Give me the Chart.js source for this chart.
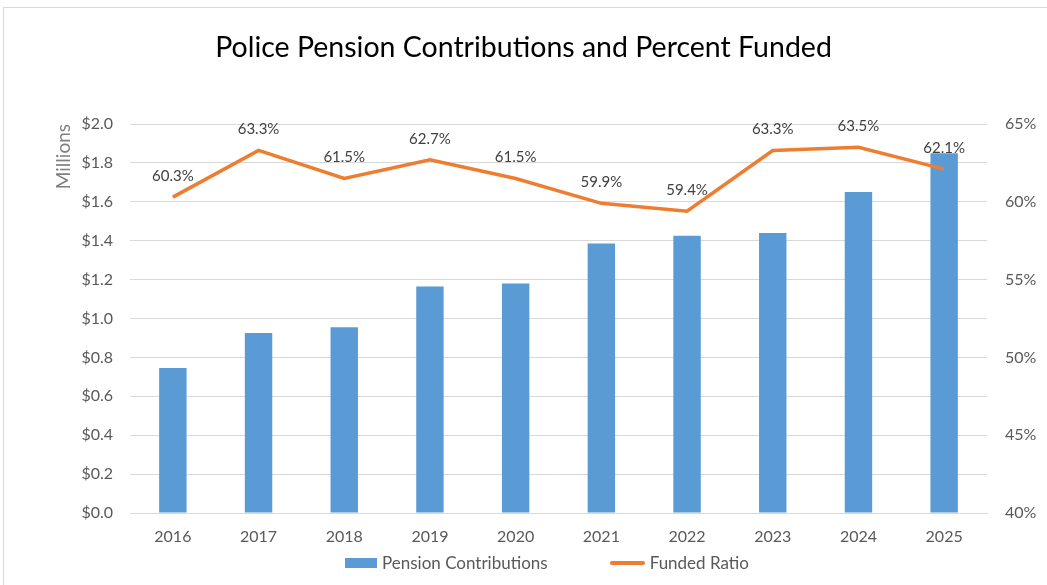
<!DOCTYPE html>
<html>
<head>
<meta charset="utf-8">
<title>Police Pension Contributions and Percent Funded</title>
<script src="https://cdn.jsdelivr.net/npm/chart.js@4.4.1/dist/chart.umd.min.js"></script>
<style>
  html, body { margin: 0; padding: 0; background: #fff; }
  body { width: 1047px; height: 585px; overflow: hidden; position: relative; font-family: Lato, sans-serif; }
  .frame { position: absolute; left: 3px; top: 7px; width: 1100px; height: 640px; border: 1px solid #d9d9d9; }
  #wrap { position: absolute; left: 0; top: 0; width: 1047px; height: 585px; }
  #legend { position: absolute; left: 345px; top: 553px; display: flex; gap: 62px; align-items: center;
            color: #595959; font-size: 17px; line-height: 20px; }
  #legend .item { display: flex; align-items: center; gap: 5px; }
  #legend .swatch { display: inline-block; }
</style>
</head>
<body>
<div class="frame"></div>
<div id="wrap"><canvas id="pensionChart" width="1047" height="585"></canvas></div>
<div id="legend"></div>

<script>
// chart data
const years = ['2016','2017','2018','2019','2020','2021','2022','2023','2024','2025'];
const contributions = [0.745, 0.925, 0.955, 1.165, 1.18, 1.385, 1.425, 1.44, 1.65, 1.85]; // millions
const funded = [60.3, 63.3, 61.5, 62.7, 61.5, 59.9, 59.4, 63.3, 63.5, 62.1];          // percent
const leftTicks = [0, 0.2, 0.4, 0.6, 0.8, 1.0, 1.2, 1.4, 1.6, 1.8, 2.0];
const rightTicks = [40, 45, 50, 55, 60, 65];

const BLUE = '#5b9bd5', ORANGE = '#ed7d31';

Chart.defaults.font.family = 'Lato, sans-serif';
Chart.defaults.color = '#595959';

// % labels above the funded ratio line
const pointLabels = {
  id: 'pointLabels',
  afterDatasetsDraw(chart) {
    const ctx = chart.ctx;
    const meta = chart.getDatasetMeta(1);
    ctx.save();
    ctx.font = '15px Lato, sans-serif';
    ctx.fillStyle = '#404040';
    ctx.textAlign = 'center';
    ctx.textBaseline = 'middle';
    meta.data.forEach((pt, i) => {
      ctx.fillText(funded[i].toFixed(1) + '%', pt.x, pt.y - 21);
    });
    ctx.restore();
  }
};

function buildLegend(chart) {
  const el = document.getElementById('legend');
  el.innerHTML = chart.data.datasets.map(ds => {
    const sw = ds.type === 'line'
      ? `<span class="swatch" style="width:35px;height:4px;background:${ds.borderColor};border-radius:2px"></span>`
      : `<span class="swatch" style="width:32px;height:10px;background:${ds.backgroundColor}"></span>`;
    return `<span class="item">${sw}<span>${ds.label}</span></span>`;
  }).join('');
}

const chart = new Chart(document.getElementById('pensionChart'), {
  data: {
    labels: years,
    datasets: [
      { type: 'bar', label: 'Pension Contributions', data: contributions, yAxisID: 'y',
        backgroundColor: BLUE, categoryPercentage: 1, barPercentage: 0.32, order: 2 },
      { type: 'line', label: 'Funded Ratio', data: funded, yAxisID: 'y1',
        borderColor: ORANGE, backgroundColor: ORANGE, borderWidth: 3.5, pointRadius: 0,
        tension: 0, order: 1 }
    ]
  },
  options: {
    responsive: false,
    animation: false,
    layout: { padding: 0 },
    plugins: {
      legend: { display: false },
      tooltip: { enabled: false },
      title: { display: true, text: 'Police Pension Contributions and Percent Funded',
        color: '#000', font: { size: 28.5, weight: 'normal' }, padding: { top: 31, bottom: 58.8 } }
    },
    scales: {
      x: {
        grid: { display: false },
        border: { display: true, color: '#d9d9d9' },
        ticks: { font: { size: 16 }, padding: 6, maxRotation: 0 },
        afterFit: s => { s.height = 72; }
      },
      y: {
        position: 'left', min: 0, max: 2,
        afterBuildTicks: s => { s.ticks = leftTicks.map(v => ({ value: v })); },
        ticks: { font: { size: 16 }, padding: 17, callback: v => '$' + v.toFixed(1) },
        grid: { color: '#d9d9d9', drawTicks: false },
        border: { display: false },
        title: { display: true, text: 'Millions', align: 'end', color: '#808080',
          font: { size: 19 }, padding: { top: 52, bottom: 0 } },
        afterFit: s => { s.width = 130; }
      },
      y1: {
        position: 'right', min: 40, max: 65,
        afterBuildTicks: s => { s.ticks = rightTicks.map(v => ({ value: v })); },
        ticks: { font: { size: 16 }, padding: 18, callback: v => v + '%' },
        grid: { display: false, drawTicks: false },
        border: { display: false },
        afterFit: s => { s.width = 60; }
      }
    }
  },
  plugins: [pointLabels]
});

buildLegend(chart);
</script>
</body>
</html>
